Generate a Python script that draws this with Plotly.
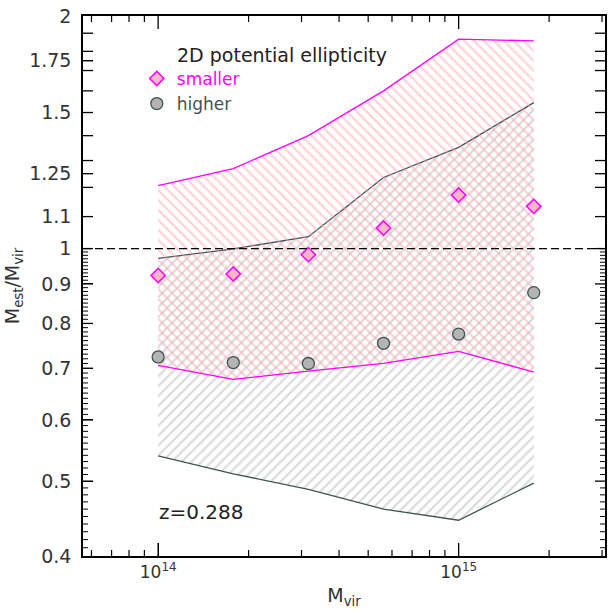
import math
import plotly.graph_objects as go

# ---------------- data ----------------
log_mvir = [14.0, 14.25, 14.5, 14.75, 15.0, 15.25]
mvir = [10 ** v for v in log_mvir]

smaller_ratio = [0.923, 0.927, 0.982, 1.063, 1.173, 1.134]
smaller_lo = [0.706, 0.677, 0.694, 0.710, 0.736, 0.692]
smaller_hi = [1.206, 1.269, 1.400, 1.600, 1.867, 1.857]

higher_ratio = [0.724, 0.712, 0.710, 0.754, 0.775, 0.877]
higher_lo = [0.539, 0.511, 0.488, 0.460, 0.445, 0.497]
higher_hi = [0.971, 0.999, 1.036, 1.236, 1.352, 1.545]

y_tickvals = [0.4, 0.5, 0.6, 0.7, 0.8, 0.9, 1.0, 1.1, 1.25, 1.5, 1.75, 2.0]
y_ticktext = ["0.4", "0.5", "0.6", "0.7", "0.8", "0.9", "1", "1.1", "1.25", "1.5", "1.75", "2"]
y_minor = [round(0.40 + 0.01 * i, 2) for i in range(61) if i % 10 != 0]
y_upper_ticks = [1.2, 1.3, 1.4, 1.6, 1.7, 1.8, 1.9]

x_tickvals = [1e14, 1e15]
x_ticktext = ["10<sup>14</sup>", "10<sup>15</sup>"]
x_minor = [6e13, 7e13, 8e13, 9e13] + [k * 1e14 for k in range(2, 10)] + [2e15, 3e15]

MAG = "#ff00ff"
SLATE = "#3f5353"
PINK_HATCH = "#ff9fb2"
GRAY_HATCH = "#b4b4b4"
FONT = "DejaVu Sans"

XR = [13.75, 15.487]
YR = [math.log10(0.4), math.log10(2.0)]

fig = go.Figure()

# gray ("higher") band
fig.add_trace(go.Scatter(x=mvir, y=higher_lo, mode="lines",
                         line=dict(color=SLATE, width=1.3), showlegend=False, hoverinfo="skip"))
fig.add_trace(go.Scatter(x=mvir, y=higher_hi, mode="lines", fill="tonexty",
                         fillcolor="rgba(0,0,0,0)",
                         fillpattern=dict(shape="/", fgcolor=GRAY_HATCH, bgcolor="rgba(0,0,0,0)",
                                          size=7, solidity=0.3),
                         line=dict(color=SLATE, width=1.3), showlegend=False, hoverinfo="skip"))
# magenta ("smaller") band
fig.add_trace(go.Scatter(x=mvir, y=smaller_lo, mode="lines",
                         line=dict(color=MAG, width=1.3), showlegend=False, hoverinfo="skip"))
fig.add_trace(go.Scatter(x=mvir, y=smaller_hi, mode="lines", fill="tonexty",
                         fillcolor="rgba(0,0,0,0)",
                         fillpattern=dict(shape="\\", fgcolor=PINK_HATCH, bgcolor="rgba(0,0,0,0)",
                                          size=7, solidity=0.3),
                         line=dict(color=MAG, width=1.3), showlegend=False, hoverinfo="skip"))

# markers
fig.add_trace(go.Scatter(x=mvir, y=smaller_ratio, mode="markers",
                         name="<span style='color:#ff00ff'>smaller</span>",
                         marker=dict(symbol="diamond", size=11, color="#ffb6c6",
                                     line=dict(color=MAG, width=1.5))))
fig.add_trace(go.Scatter(x=mvir, y=higher_ratio, mode="markers",
                         name="<span style='color:#3f5353'>higher</span>",
                         marker=dict(symbol="circle", size=12, color="#b4b4b4",
                                     line=dict(color=SLATE, width=1.3))))

# reference line at 1
fig.add_shape(type="line", xref="paper", x0=0, x1=1, yref="y", y0=1, y1=1,
              line=dict(color="black", width=1.2, dash="8px,4px"), layer="above")


# tick marks drawn inside the frame (bottom/top and left/right), from the tick lists
def x_tick(v, length, width):
    for anchor, sign in ((0, 1), (1, -1)):
        fig.add_shape(type="line", xref="x", x0=v, x1=v, yref="paper",
                      ysizemode="pixel", yanchor=anchor, y0=0, y1=sign * length,
                      line=dict(color="black", width=width), layer="above")


def y_tick(v, length, width):
    for anchor, sign in ((0, 1), (1, -1)):
        fig.add_shape(type="line", yref="y", y0=v, y1=v, xref="paper",
                      xsizemode="pixel", xanchor=anchor, x0=0, x1=sign * length,
                      line=dict(color="black", width=width), layer="above")


for v in x_tickvals:
    x_tick(v, 13, 1.3)
for v in x_minor:
    x_tick(v, 6, 1.2)
for v in y_tickvals[1:-1]:
    y_tick(v, 10, 1.3)
for v in y_upper_ticks:
    y_tick(v, 10, 1.3)
for v in y_minor:
    y_tick(v, 5, 1.0)

fig.add_annotation(text="2D potential ellipticity", xref="paper", yref="paper",
                   x=(175 - 83) / 524, y=(556 - 54) / 541, xanchor="left", yanchor="middle",
                   showarrow=False, font=dict(family=FONT, size=19, color="#222"))
fig.add_annotation(text="z=0.288", xref="paper", yref="paper",
                   x=(157 - 83) / 524, y=(556 - 512) / 541, xanchor="left", yanchor="middle",
                   showarrow=False, font=dict(family=FONT, size=20, color="#222"))

fig.update_layout(
    width=612, height=613,
    margin=dict(l=83, r=5, t=15, b=57),
    plot_bgcolor="white", paper_bgcolor="white",
    font=dict(family=FONT, size=19, color="#333"),
    xaxis=dict(type="log", range=XR, tickmode="array",
               tickvals=x_tickvals, ticktext=x_ticktext,
               ticks="inside", ticklen=13, tickwidth=1.3, tickcolor="black",
               showline=True, linecolor="black", linewidth=1.5, mirror=True,
               showgrid=False, zeroline=False,
               tickfont=dict(size=17),
               title=dict(text="M<sub>vir</sub>", font=dict(size=19), standoff=8)),
    yaxis=dict(type="log", range=YR, tickmode="array",
               tickvals=y_tickvals, ticktext=y_ticktext,
               ticks="inside", ticklen=10, tickwidth=1.3, tickcolor="black",
               showline=True, linecolor="black", linewidth=1.5, mirror=True,
               showgrid=False, zeroline=False,
               ticklabelstandoff=6,
               title=dict(text="M<sub>est</sub>/M<sub>vir</sub>", font=dict(size=19), standoff=4)),
    legend=dict(x=(137 - 83) / 524, y=(556 - 60) / 541, xanchor="left", yanchor="top",
                bgcolor="rgba(0,0,0,0)", font=dict(family=FONT, size=17),
                itemwidth=30, tracegroupgap=0, traceorder="normal"),
)

fig.write_html("out.html")
